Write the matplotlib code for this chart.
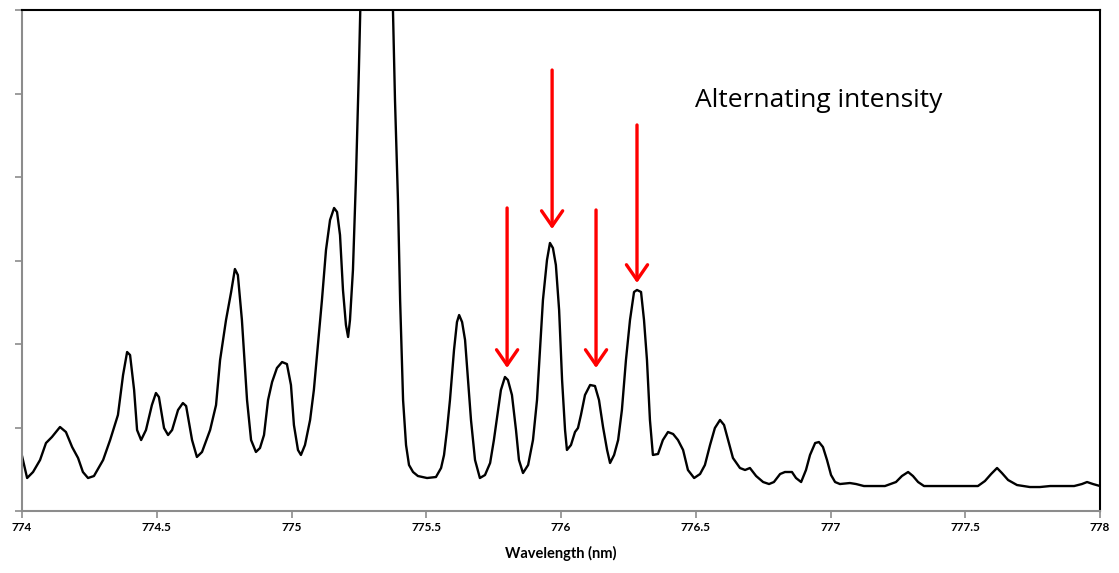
import matplotlib
matplotlib.use("Agg")
import matplotlib.pyplot as plt

# spectrum (wavelength in nm, intensity in arbitrary units)
wavelength = [
    774.000, 774.019, 774.041, 774.067, 774.089, 774.111, 774.141, 774.163, 774.186, 774.208,
    774.226, 774.245, 774.267, 774.301, 774.327, 774.356, 774.375, 774.390, 774.401, 774.416,
    774.427, 774.442, 774.460, 774.482, 774.497, 774.508, 774.527, 774.542, 774.557, 774.579,
    774.597, 774.609, 774.631, 774.649, 774.668, 774.698, 774.720, 774.735, 774.757, 774.776,
    774.790, 774.801, 774.816, 774.835, 774.850, 774.868, 774.883, 774.898, 774.913, 774.928,
    774.946, 774.965, 774.983, 774.998, 775.009, 775.024, 775.035, 775.050, 775.069, 775.083,
    775.098, 775.113, 775.128, 775.143, 775.158, 775.169, 775.180, 775.191, 775.202, 775.210,
    775.217, 775.228, 775.239, 775.250, 775.317, 775.384, 775.395, 775.403, 775.414, 775.425,
    775.436, 775.451, 775.469, 775.503, 775.536, 775.555, 775.566, 775.577, 775.588, 775.603,
    775.614, 775.622, 775.633, 775.644, 775.655, 775.666, 775.681, 775.699, 775.718, 775.737,
    775.751, 775.763, 775.777, 775.792, 775.803, 775.818, 775.833, 775.844, 775.859, 775.878,
    775.896, 775.911, 775.922, 775.933, 775.948, 775.959, 775.970, 775.981, 775.993, 776.004,
    776.015, 776.022, 776.037, 776.052, 776.063, 776.074, 776.089, 776.108, 776.126, 776.141,
    776.156, 776.171, 776.182, 776.197, 776.212, 776.226, 776.241, 776.256, 776.271, 776.282,
    776.297, 776.308, 776.319, 776.330, 776.341, 776.360, 776.378, 776.397, 776.416, 776.434,
    776.453, 776.471, 776.494, 776.516, 776.534, 776.553, 776.571, 776.590, 776.605, 776.620,
    776.638, 776.664, 776.683, 776.701, 776.724, 776.750, 776.772, 776.790, 776.813, 776.831,
    776.857, 776.872, 776.891, 776.909, 776.924, 776.943, 776.957, 776.972, 776.987, 777.002,
    777.017, 777.035, 777.072, 777.095, 777.124, 777.202, 777.243, 777.265, 777.288, 777.306,
    777.325, 777.347, 777.547, 777.573, 777.596, 777.618, 777.636, 777.659, 777.692, 777.740,
    777.777, 777.815, 777.904, 777.933, 777.952, 777.974, 778.000,
]
intensity = [
    660, 395, 467, 611, 814, 886, 1006, 946, 766, 635,
    467, 395, 419, 611, 850, 1150, 1629, 1904, 1868, 1449,
    970, 850, 970, 1269, 1413, 1365, 994, 910, 970, 1210,
    1293, 1257, 850, 647, 707, 970, 1269, 1808, 2287, 2623,
    2898, 2826, 2287, 1329, 850, 707, 754, 910, 1329, 1545,
    1713, 1784, 1760, 1509, 1030, 731, 671, 790, 1090, 1449,
    1988, 2527, 3126, 3485, 3629, 3581, 3305, 2647, 2228, 2084,
    2287, 2886, 3964, 5281, 14500, 4922, 3725, 2527, 1329, 790,
    551, 467, 419, 395, 407, 515, 671, 970, 1329, 1928,
    2263, 2347, 2263, 2048, 1569, 1090, 611, 395, 431, 575,
    850, 1126, 1449, 1605, 1569, 1389, 970, 611, 455, 551,
    850, 1329, 1928, 2527, 3006, 3210, 3150, 2946, 2407, 1569,
    970, 731, 790, 946, 994, 1150, 1389, 1509, 1497, 1329,
    1006, 731, 575, 671, 850, 1210, 1808, 2287, 2623, 2647,
    2623, 2287, 1808, 1090, 671, 683, 850, 946, 922, 850,
    731, 491, 395, 443, 551, 790, 994, 1090, 1030, 850,
    635, 515, 491, 515, 419, 347, 323, 347, 443, 467,
    467, 395, 347, 491, 671, 814, 826, 766, 611, 431,
    347, 323, 335, 323, 299, 299, 347, 419, 467, 419,
    347, 299, 299, 359, 443, 515, 455, 371, 311, 287,
    287, 299, 299, 323, 347, 323, 299,
]

# red arrows: wavelength, tail intensity, tip intensity
arrow_x = [775.800, 775.967, 776.130, 776.282]
arrow_top = [3629, 5281, 3605, 4623]
arrow_tip = [1713, 3377, 1713, 2731]

x_ticks = [774, 774.5, 775, 775.5, 776, 776.5, 777, 777.5, 778]
x_tick_labels = ["774", "774.5", "775", "775.5", "776", "776.5", "777", "777.5", "778"]
y_ticks = [0, 1000, 2000, 3000, 4000, 5000, 6000]

fig = plt.figure(figsize=(11.19, 5.73), dpi=100)
ax = fig.add_axes([22 / 1119, 62 / 573, 1078 / 1119, 501 / 573])

ax.plot(wavelength, intensity, color="black", lw=1.7, solid_joinstyle="round")

for x, top, tip in zip(arrow_x, arrow_top, arrow_tip):
    ax.annotate("", xy=(x, tip), xytext=(x, top),
                arrowprops=dict(arrowstyle="->,head_length=0.55,head_width=0.38",
                                color="#ff0000", lw=2.4, shrinkA=0, shrinkB=0,
                                mutation_scale=20))

ax.text(776.497, 4920, "Alternating intensity", fontsize=19, family="Open Sans",
        va="center", ha="left", color="black")

ax.set_xlim(774, 778)
ax.set_ylim(0, 6000)
ax.set_xticks(x_ticks)
ax.set_xticklabels(x_tick_labels, fontsize=8.5, family="Lato", fontweight="bold")
ax.set_yticks(y_ticks)
ax.set_yticklabels([])
ax.set_xlabel("Wavelength (nm)", fontsize=10.5, family="Lato", fontweight="bold", labelpad=9)

for side in ["left", "bottom"]:
    ax.spines[side].set_color("#8c8c8c")
    ax.spines[side].set_linewidth(1.5)
for side in ["top", "right"]:
    ax.spines[side].set_color("black")
    ax.spines[side].set_linewidth(1.5)
ax.tick_params(axis="both", direction="out", length=5, width=1.2, color="#8c8c8c", pad=3)

fig.savefig("out.png", dpi=100)
